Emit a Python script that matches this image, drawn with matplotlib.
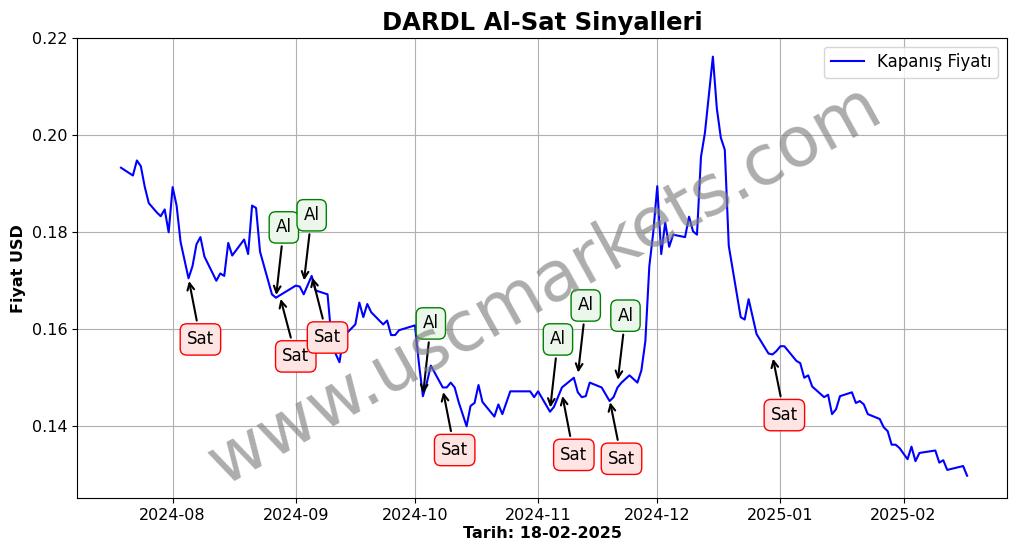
import matplotlib
matplotlib.use("Agg")
import matplotlib.pyplot as plt
import matplotlib.dates as mdates
import pandas as pd

dates = ["2024-07-19","2024-07-22","2024-07-23","2024-07-24","2024-07-25","2024-07-26","2024-07-28","2024-07-29","2024-07-30","2024-07-31",
"2024-08-01","2024-08-02","2024-08-03","2024-08-05","2024-08-06","2024-08-07","2024-08-08","2024-08-09","2024-08-12","2024-08-13",
"2024-08-14","2024-08-15","2024-08-16","2024-08-19","2024-08-20","2024-08-21","2024-08-22","2024-08-23","2024-08-26","2024-08-27",
"2024-09-01","2024-09-02","2024-09-03","2024-09-05","2024-09-06","2024-09-09","2024-09-10","2024-09-11","2024-09-12","2024-09-13",
"2024-09-16","2024-09-17","2024-09-18","2024-09-19","2024-09-20","2024-09-23","2024-09-24","2024-09-25","2024-09-26","2024-09-27",
"2024-10-01","2024-10-02","2024-10-03","2024-10-04","2024-10-05","2024-10-07","2024-10-08","2024-10-09","2024-10-10","2024-10-11",
"2024-10-12","2024-10-14","2024-10-15","2024-10-16","2024-10-17","2024-10-18","2024-10-21","2024-10-22","2024-10-23","2024-10-25",
"2024-10-30","2024-10-31","2024-11-01","2024-11-04","2024-11-05","2024-11-07","2024-11-10","2024-11-11","2024-11-12","2024-11-13",
"2024-11-14","2024-11-17","2024-11-19","2024-11-20","2024-11-21","2024-11-22","2024-11-24","2024-11-26","2024-11-27","2024-11-28",
"2024-11-29","2024-11-30","2024-12-01","2024-12-02","2024-12-03","2024-12-04","2024-12-05","2024-12-08","2024-12-09","2024-12-10",
"2024-12-11","2024-12-12","2024-12-13","2024-12-15","2024-12-16","2024-12-17","2024-12-18","2024-12-19","2024-12-22","2024-12-23",
"2024-12-24","2024-12-26","2024-12-29","2024-12-30","2024-12-31","2025-01-01","2025-01-02","2025-01-05","2025-01-06","2025-01-07",
"2025-01-08","2025-01-09","2025-01-12","2025-01-13","2025-01-14","2025-01-15","2025-01-16","2025-01-19","2025-01-20","2025-01-21",
"2025-01-22","2025-01-23","2025-01-26","2025-01-27","2025-01-28","2025-01-29","2025-01-30","2025-01-31","2025-02-02","2025-02-03",
"2025-02-04","2025-02-05","2025-02-09","2025-02-10","2025-02-11","2025-02-12","2025-02-16","2025-02-17"]
prices = [0.1933,0.1917,0.1948,0.1936,0.1893,0.1860,0.1841,0.1833,0.1847,0.1800,
0.1893,0.1855,0.1780,0.1705,0.1730,0.1775,0.1790,0.1750,0.1700,0.1715,
0.1710,0.1778,0.1752,0.1785,0.1755,0.1855,0.1850,0.1760,0.1672,0.1665,
0.1690,0.1688,0.1672,0.1710,0.1680,0.1672,0.1580,0.1550,0.1532,0.1585,
0.1610,0.1655,0.1625,0.1652,0.1635,0.1610,0.1618,0.1588,0.1588,0.1598,
0.1608,0.1530,0.1462,0.1490,0.1525,0.1495,0.1480,0.1480,0.1490,0.1480,
0.1450,0.1400,0.1442,0.1448,0.1485,0.1450,0.1420,0.1445,0.1425,0.1472,
0.1472,0.1460,0.1472,0.1430,0.1440,0.1480,0.1500,0.1470,0.1460,0.1462,
0.1490,0.1480,0.1452,0.1460,0.1480,0.1490,0.1505,0.1490,0.1515,0.1575,
0.1730,0.1800,0.1895,0.1755,0.1820,0.1770,0.1795,0.1790,0.1832,0.1802,
0.1795,0.1955,0.2005,0.2162,0.2055,0.1995,0.1970,0.1772,0.1625,0.1620,
0.1662,0.1590,0.1550,0.1548,0.1555,0.1565,0.1565,0.1535,0.1530,0.1500,
0.1505,0.1482,0.1460,0.1465,0.1425,0.1435,0.1462,0.1470,0.1448,0.1452,
0.1445,0.1425,0.1415,0.1398,0.1390,0.1362,0.1362,0.1355,0.1332,0.1358,
0.1328,0.1345,0.1350,0.1325,0.1330,0.1310,0.1318,0.1298]

sig_type = ["Sat","Al","Sat","Al","Sat","Al","Sat","Al","Sat","Al","Sat","Al","Sat"]
sig_date = ["2024-08-05","2024-08-27","2024-08-28","2024-09-03","2024-09-05","2024-10-03","2024-10-08",
            "2024-11-04","2024-11-07","2024-11-11","2024-11-19","2024-11-21","2024-12-30"]
sig_price = [0.1705,0.1665,0.1668,0.1695,0.1712,0.1462,0.1476,0.1433,0.1468,0.1505,0.1455,0.1490,0.1545]
txt_date = ["2024-08-08","2024-08-29","2024-09-01","2024-09-05","2024-09-09","2024-10-05","2024-10-11",
            "2024-11-06","2024-11-10","2024-11-13","2024-11-22","2024-11-23","2025-01-02"]
txt_price = [0.1579,0.1810,0.1544,0.1835,0.1583,0.1612,0.1351,0.1579,0.1341,0.1649,0.1333,0.1628,0.1423]

fig, ax = plt.subplots(figsize=(10.17, 5.54), dpi=100)
fig.subplots_adjust(left=0.076, right=0.99, top=0.931, bottom=0.101)
x = pd.to_datetime(dates)
ax.plot(x, prices, color="blue", lw=1.5, label="Kapanış Fiyatı")
for t, d, p, td, tp in zip(sig_type, sig_date, sig_price, txt_date, txt_price):
    if t == "Al":
        ec, fc = "green", "#eaf7ea"
    else:
        ec, fc = "red", "#ffe4e4"
    ax.annotate(t, xy=(pd.Timestamp(d), p), xytext=(pd.Timestamp(td), tp),
                ha="center", va="center", fontsize=12,
                bbox=dict(boxstyle="round,pad=0.4", ec=ec, fc=fc),
                arrowprops=dict(arrowstyle="->", color="black", lw=1.5))
ax.set_ylim(0.1252, 0.22)
ax.set_xlim(pd.Timestamp("2024-07-08"), pd.Timestamp("2025-02-27"))
ax.xaxis.set_major_locator(mdates.MonthLocator())
ax.xaxis.set_major_formatter(mdates.DateFormatter("%Y-%m"))
ax.grid(True, color="#b0b0b0")
ax.tick_params(labelsize=11.5)
ax.set_title("DARDL Al-Sat Sinyalleri", fontsize=17.5, fontweight="bold")
ax.set_xlabel("Tarih: 18-02-2025", fontsize=11.5, fontweight="bold", labelpad=2)
ax.set_ylabel("Fiyat USD", fontsize=11.5, fontweight="bold")
ax.legend(loc="upper right", fontsize=12)
fig.text(0.535, 0.485, "www.uscmarkets.com", fontsize=50, color="gray", alpha=0.65,
         rotation=29, ha="center", va="center")
fig.savefig("out.png", dpi=100)
